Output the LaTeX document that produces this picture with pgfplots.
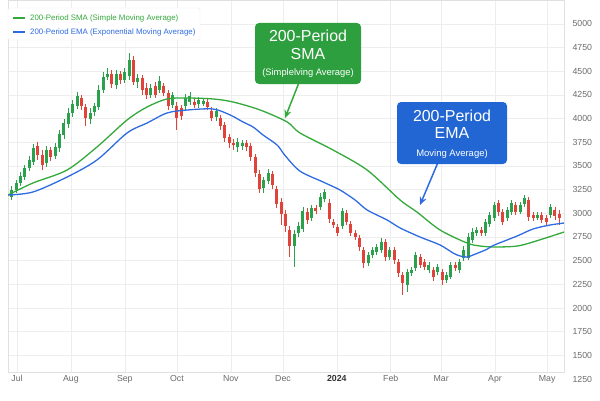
\documentclass[border=0pt]{standalone}
\usepackage{pgfplots}
\pgfplotsset{compat=1.18}
\usepackage{pgfplotstable}
\usepackage{fontspec}
\setmainfont{Liberation Sans}
\usetikzlibrary{arrows.meta}
\definecolor{cgreen}{HTML}{2BA14D}
\definecolor{cred}{HTML}{E0433A}
\definecolor{smagreen}{HTML}{33A93B}
\definecolor{emablue}{HTML}{2F6BE0}
\definecolor{boxgreen}{HTML}{2E9F3F}
\definecolor{boxblue}{HTML}{2266D4}
\definecolor{tickgray}{HTML}{6B6B6B}

\pgfplotstableread{
d o h l c
-3 3172 3288 3140 3246
-0.5 3246 3351 3214 3320
2 3320 3436 3288 3394
4.5 3383 3510 3351 3478
7 3478 3605 3446 3563
9.5 3542 3732 3510 3689
12 3710 3753 3563 3615
14.5 3615 3668 3457 3510
17 3531 3710 3489 3668
19.5 3668 3700 3552 3594
22 3605 3742 3573 3700
24.5 3689 3879 3647 3837
27 3827 3996 3784 3953
29.5 3943 4112 3901 4059
32 4059 4196 4017 4154
34.5 4133 4281 4101 4238
37 4217 4249 4091 4133
39.5 4122 4154 3922 4006
42 3996 4112 3943 4059
44.5 4070 4165 4027 4133
47 4122 4355 4091 4302
49.5 4302 4492 4270 4439
52 4439 4534 4407 4471
54.5 4471 4513 4323 4365
57 4355 4513 4312 4471
59.5 4471 4502 4365 4407
62 4407 4534 4376 4492
64.5 4450 4692 4407 4619
67 4619 4661 4355 4386
69.5 4386 4471 4323 4428
72 4428 4460 4249 4302
74.5 4323 4376 4207 4249
77 4249 4365 4217 4323
79.5 4344 4386 4217 4249
82 4302 4450 4270 4397
84.5 4344 4376 4238 4270
87 4270 4302 4091 4133
89.5 4143 4281 4112 4249
92 4133 4175 3879 4006
94.5 4112 4143 3985 4027
97 4133 4260 4091 4217
99.5 4175 4281 4143 4238
102 4175 4207 4112 4143
104.5 4154 4228 4112 4196
107 4154 4217 4133 4186
109.5 4175 4207 4091 4122
112 4080 4122 3974 4006
114.5 4017 4112 3974 4080
117 4006 4038 3879 3922
119.5 3932 3964 3753 3795
122 3806 3837 3689 3742
124.5 3742 3784 3668 3721
127 3700 3795 3647 3753
129.5 3710 3774 3668 3742
132 3742 3774 3658 3700
134.5 3710 3742 3552 3594
137 3594 3626 3383 3425
139.5 3415 3457 3214 3256
142 3267 3383 3214 3351
144.5 3341 3468 3309 3425
147 3415 3446 3256 3299
149.5 3256 3288 3056 3098
152 3119 3161 2876 2992
154.5 2992 3035 2802 2866
157 2823 2866 2538 2654
159.5 2654 2823 2433 2781
162 2792 2908 2750 2866
164.5 2834 3066 2802 3024
167 3013 3056 2887 2929
169.5 2950 3087 2918 3056
172 3056 3087 2992 3024
174.5 3066 3214 3035 3172
177 3151 3256 3119 3225
179.5 3109 3151 2897 2940
182 2908 2940 2845 2876
184.5 2855 2887 2760 2792
187 2866 3056 2834 3024
189.5 3003 3035 2876 2908
192 2887 2918 2760 2792
194.5 2792 2823 2718 2750
197 2739 2771 2602 2644
199.5 2612 2644 2422 2475
202 2475 2591 2443 2559
204.5 2559 2644 2528 2612
207 2591 2675 2559 2644
209.5 2612 2739 2580 2697
212 2697 2728 2496 2538
214.5 2538 2644 2507 2612
217 2612 2644 2464 2507
219.5 2485 2517 2327 2369
222 2348 2380 2137 2264
224.5 2243 2412 2169 2380
227 2369 2433 2338 2401
229.5 2422 2591 2390 2559
232 2538 2570 2422 2454
234.5 2485 2517 2401 2433
237 2401 2485 2369 2454
239.5 2401 2433 2285 2327
242 2380 2464 2348 2433
244.5 2380 2412 2243 2295
247 2295 2380 2264 2348
249.5 2327 2485 2306 2454
252 2454 2485 2390 2422
254.5 2401 2517 2369 2485
257 2528 2654 2496 2612
259.5 2528 2792 2507 2750
262 2718 2845 2686 2802
264.5 2792 2855 2760 2823
267 2823 2855 2760 2792
269.5 2792 2940 2760 2908
272 2887 3013 2855 2982
274.5 2950 3119 2918 3087
277 3109 3140 2971 3013
279.5 3013 3045 2876 2908
282 2950 3066 2918 3035
284.5 3013 3140 2982 3109
287 3087 3119 2982 3013
289.5 3013 3119 2992 3087
292 3098 3193 3066 3161
294.5 3140 3172 2918 2961
297 2982 3013 2918 2950
299.5 2950 3013 2929 2982
302 2982 3013 2897 2929
304.5 2950 2982 2876 2908
307 2982 3098 2950 3066
309.5 3035 3066 2929 2971
312 2992 3035 2876 2950
}\candles

\begin{document}
\begin{tikzpicture}[x=1bp,y=1bp]
\useasboundingbox (0,0) rectangle (600,400);
\begin{axis}[name=ax, at={(8bp,28bp)}, anchor=south west, scale only axis,
  width=556bp, height=372bp,
  xmin=-5.2, xmax=314.7, ymin=1324, ymax=5252,
  xtick={0,31,62,92,123,153,184,215,244,275,305},
  xticklabels={Jul,Aug,Sep,Oct,Nov,Dec,{\textbf{\color{black!80}2024}},Feb,Mar,Apr,May},
  ytick={1500,1750,...,5000},
  yticklabel pos=right,
  major tick length=0pt,
  grid=major, grid style={black!7, line width=0.5bp},
  axis line style={black!12, line width=0.5bp},
  ticklabel style={font=\fontsize{8.8}{10}\selectfont, text=tickgray},
  yticklabel style={xshift=5bp, /pgf/number format/1000 sep={}},
  /pgf/number format/assume math mode=true,
]
% green candles: wicks
\addplot[draw=none, mark=none, forget plot,
  restrict expr to domain={\thisrow{c}-\thisrow{o}}{0:100000},
  error bars/.cd, y dir=plus, y explicit, error mark=none,
  error bar style={line width=0.9bp, draw=cgreen}]
  table[x=d, y=l, y error expr={\thisrow{h}-\thisrow{l}}] {\candles};
% green bodies
\addplot[draw=none, mark=none, forget plot,
  restrict expr to domain={\thisrow{c}-\thisrow{o}}{0:100000},
  error bars/.cd, y dir=plus, y explicit, error mark=none,
  error bar style={line width=3bp, draw=cgreen}]
  table[x=d, y=o, y error expr={\thisrow{c}-\thisrow{o}}] {\candles};
% red candles: wicks
\addplot[draw=none, mark=none, forget plot,
  restrict expr to domain={\thisrow{o}-\thisrow{c}}{0.5:100000},
  error bars/.cd, y dir=plus, y explicit, error mark=none,
  error bar style={line width=0.9bp, draw=cred}]
  table[x=d, y=l, y error expr={\thisrow{h}-\thisrow{l}}] {\candles};
% red bodies
\addplot[draw=none, mark=none, forget plot,
  restrict expr to domain={\thisrow{o}-\thisrow{c}}{0.5:100000},
  error bars/.cd, y dir=plus, y explicit, error mark=none,
  error bar style={line width=3bp, draw=cred}]
  table[x=d, y=c, y error expr={\thisrow{o}-\thisrow{c}}] {\candles};
% SMA
\addplot[smooth, smagreen, line width=1.3bp] coordinates {
(-5.2,3193) (9.2,3320) (28.8,3457) (46,3700) (63.3,3985) (74.8,4122)
(86.3,4207) (97.8,4217) (112.8,4207) (124.3,4175) (139.8,4091) (155.4,3964)
(162.8,3848) (181.8,3668) (201.4,3457) (220.4,3140) (230.1,3013) (243.4,2823)
(258.9,2686) (266.4,2654) (276,2644) (287.7,2654) (296.9,2697) (314.7,2802)};
% EMA
\addplot[smooth, emablue, line width=1.3bp] coordinates {
(-5.2,3193) (9.2,3225) (28.8,3383) (46,3563) (63.3,3848) (74.8,3953)
(86.3,4059) (97.8,4090) (112.8,4101) (122.6,4038) (130,3964) (135.8,3911)
(141.5,3827) (149.6,3721) (154.2,3610) (162.8,3445) (176.1,3330) (185.8,3246)
(194.5,3140) (201.4,3035) (212.9,2929) (220.4,2845) (231.9,2749) (243.4,2665)
(250.9,2580) (254.9,2549) (258.9,2538) (262.4,2560) (270.4,2620) (274,2660)
(287.7,2760) (296.9,2834) (306.7,2876) (314.7,2897)};
\end{axis}
\node[anchor=west, font=\fontsize{8.8}{10}\selectfont, text=tickgray, xshift=5bp, yshift=-7bp] at (ax.south east) {1250};
% legend
\draw[fill=white, draw=black!8, rounded corners=2bp] (8,360) rectangle (200,392);
\draw[smagreen, line width=1.3bp] (13,382) -- (25,382);
\node[anchor=west, inner sep=0pt, text=smagreen, font=\fontsize{7.9}{9}\selectfont] at (30,382) {200-Period SMA (Simple Moving Average)};
\draw[emablue, line width=1.3bp] (13,368) -- (25,368);
\node[anchor=west, inner sep=0pt, text=emablue, font=\fontsize{7.9}{9}\selectfont] at (30,368) {200-Period EMA (Exponential Moving Average)};
% callouts
\draw[smagreen, line width=1.5bp, -{Stealth[length=8bp,width=7bp]}] (300,320) -- (285,282);
\fill[boxgreen, rounded corners=4bp] (255,316) rectangle (361,377);
\node[text=white, font=\fontsize{16}{18}\selectfont] at (308,364) {200-Period};
\node[text=white, font=\fontsize{16}{18}\selectfont] at (308,346) {SMA};
\node[text=white, font=\fontsize{9.4}{11}\selectfont] at (308,327) {(Simplelving Average)};
\draw[emablue, line width=1.5bp, -{Stealth[length=8bp,width=7bp]}] (439,240) -- (420,195);
\fill[boxblue, rounded corners=4bp] (397,236) rectangle (507,298);
\node[text=white, font=\fontsize{16}{18}\selectfont] at (452,284) {200-Period};
\node[text=white, font=\fontsize{16}{18}\selectfont] at (452,267) {EMA};
\node[text=white, font=\fontsize{9.5}{11}\selectfont] at (452,246) {Moving Average)};
\end{tikzpicture}
\end{document}
